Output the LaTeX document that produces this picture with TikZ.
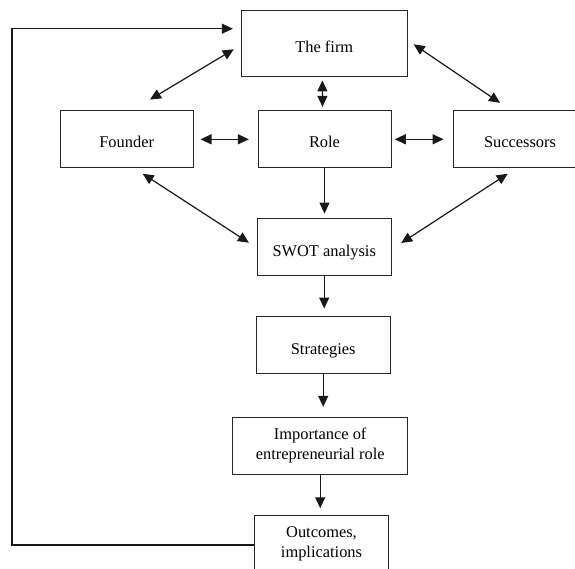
\documentclass[tikz,border=0pt]{standalone}
\usepackage{fontspec}
\setmainfont{Liberation Serif}
\usetikzlibrary{arrows.meta,calc}

\begin{document}
\begin{tikzpicture}[x=1pt,y=-1pt,
    box/.style={draw=black!85,line width=0.9pt,minimum height=57pt,inner sep=2pt,font=\fontsize{16.4}{20.2}\selectfont},
    onebox/.style={box,text height=18.8pt,text depth=0pt},
    twobox/.style={box,align=center},
    arr/.style={draw=black!90,line width=1.2pt,-{Triangle[length=11pt,width=10pt]}},
    dblarr/.style={draw=black!90,line width=1.2pt,{Triangle[length=11pt,width=10pt]}-{Triangle[length=11pt,width=10pt]}}]
        \useasboundingbox (0,0) rectangle (575,569);
        \clip (0,0) rectangle (575,569);
        \node[onebox,minimum width=166.7pt,minimum height=66pt] (firm) at (324.3,43) {The firm};
        \node[onebox,minimum width=133.3pt] (founder) at (126.7,138.5) {Founder};
        \node[onebox,minimum width=133pt] (role) at (324.5,138.5) {Role};
        \node[onebox,minimum width=133.4pt] (succ) at (520,138.5) {Successors};
        \node[onebox,minimum width=133.7pt,minimum height=56.7pt] (swot) at (324.2,246.7) {SWOT analysis};
        \node[onebox,minimum width=133.7pt,minimum height=56.6pt] (strat) at (323.2,345) {Strategies};
        \node[twobox,minimum width=175pt,minimum height=56.3pt] (imp) at (320.2,445.8) {Importance of\\entrepreneurial role};
        \node[twobox,minimum width=133.6pt] (out) at (321.5,544.2) {Outcomes,\\implications};
        \coordinate (fb) at (12,545);
        \draw[dblarr] ($(firm.west)+(-6.7,6.3)$) -- ($(founder.north)+(23.3,-10)$);
        \draw[dblarr] ($(firm.east)+(5.6,1.3)$) -- ($(succ.north)+(-20,-6.7)$);
        \draw[dblarr] ($(firm.south)+(-2,4)$) -- ($(role.north)+(-2,-2.7)$);
        \draw[dblarr] ($(founder.east)+(6.7,0.8)$) -- ($(role.west)+(-8.7,0.8)$);
        \draw[dblarr] ($(role.east)+(3.3,0.8)$) -- ($(succ.west)+(-9.3,0.8)$);
        \draw[dblarr] ($(founder.south)+(16,6.3)$) -- ($(swot.west)+(-8,-4)$);
        \draw[dblarr] ($(succ.south)+(-12.3,6.3)$) -- ($(swot.east)+(9.7,-3.7)$);
        \draw[arr,shorten >=4.3pt] (role.south) -- (role.south |- swot.north);
        \draw[arr,shorten >=7.7pt] (swot.south) -- (swot.south |- strat.north);
        \draw[arr,shorten >=10.4pt] (strat.south) -- (strat.south |- imp.north);
        \draw[arr,shorten >=7pt] (imp.south) -- (imp.south |- out.north);
        \draw[arr] ($(out.west)+(0,0.8)$) -- (fb) |- ($(firm.west)+(-7.7,-14.3)$);
\end{tikzpicture}
\end{document}
